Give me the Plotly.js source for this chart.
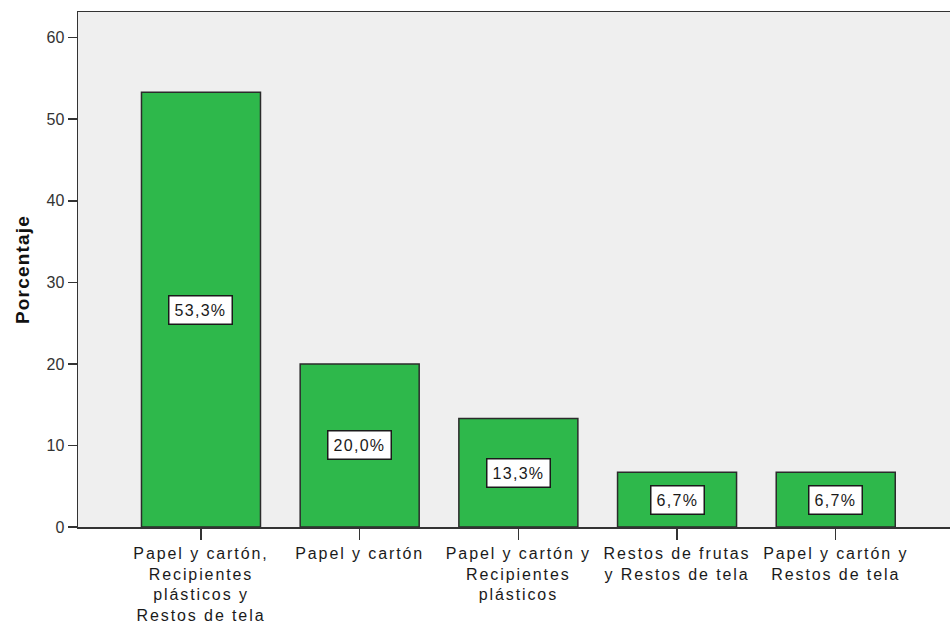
<!DOCTYPE html>
<html>
<head>
<meta charset="utf-8">
<script src="https://cdn.plot.ly/plotly-3.0.1.min.js"></script>
<style>
  html, body { margin: 0; padding: 0; background: #ffffff; }
  #chart { width: 950px; height: 624px; }
  .xtick text { letter-spacing: 1.9px; }
  .annotation-text { letter-spacing: 1.3px; }
  .ytitle { letter-spacing: 1.2px; }
</style>
</head>
<body>
<div id="chart"></div>
<script>
// Data
const categories = [
  "Papel y cartón, Recipientes plásticos y Restos de tela",
  "Papel y cartón",
  "Papel y cartón y Recipientes plásticos",
  "Restos de frutas y Restos de tela",
  "Papel y cartón y Restos de tela"
];
const tickLabels = [
  "Papel y cartón,<br>Recipientes<br>plásticos y<br>Restos de tela",
  "Papel y cartón",
  "Papel y cartón y<br>Recipientes<br>plásticos",
  "Restos de frutas<br>y Restos de tela",
  "Papel y cartón y<br>Restos de tela"
];
const percentages = [53.3, 20.0, 13.3, 6.7, 6.7];
const valueLabels = ["53,3%", "20,0%", "13,3%", "6,7%", "6,7%"];
const yTitle = "Porcentaje";

const FONT = "Liberation Sans, Arial, sans-serif";

const trace = {
  type: "bar",
  x: categories,
  y: percentages,
  marker: {
    color: "#2eb84b",
    line: { color: "#2b2b2b", width: 1.5 }
  },
  hoverinfo: "none"
};

const annotations = categories.map((c, i) => ({
  x: c,
  y: percentages[i] / 2,
  xref: "x",
  yref: "y",
  text: valueLabels[i],
  showarrow: false,
  bgcolor: "#ffffff",
  bordercolor: "#1a1a1a",
  borderwidth: 1.5,
  borderpad: 5,
  font: { family: FONT, size: 16, color: "#1a1a1a" }
}));

const layout = {
  width: 950,
  height: 624,
  margin: { l: 78, r: 0, t: 12, b: 97, pad: 0 },
  paper_bgcolor: "#ffffff",
  plot_bgcolor: "#efefef",
  bargap: 0.25,
  showlegend: false,
  font: { family: FONT, size: 16, color: "#222222" },
  xaxis: {
    type: "category",
    range: [-0.775, 4.72],
    tickmode: "array",
    tickvals: categories,
    ticktext: tickLabels,
    ticks: "outside",
    ticklen: 11,
    tickwidth: 1.5,
    tickcolor: "#333333",
    showline: true,
    linecolor: "#333333",
    linewidth: 1.5,
    mirror: true,
    showgrid: false,
    zeroline: false,
    automargin: false,
    tickfont: { family: FONT, size: 16, color: "#1a1a1a" }
  },
  yaxis: {
    range: [0, 63.15],
    tickmode: "array",
    tickvals: [0, 10, 20, 30, 40, 50, 60],
    ticks: "outside",
    ticklen: 9,
    tickwidth: 1.5,
    tickcolor: "#333333",
    showline: true,
    linecolor: "#333333",
    linewidth: 1.5,
    showgrid: false,
    zeroline: false,
    automargin: false,
    tickfont: { family: FONT, size: 16, color: "#333333" },
    title: {
      text: yTitle,
      standoff: 12,
      font: { family: FONT, size: 19, color: "#111111", weight: "bold" }
    }
  },
  annotations: annotations
};

Plotly.newPlot("chart", [trace], layout, { staticPlot: true, displayModeBar: false });
</script>
</body>
</html>
